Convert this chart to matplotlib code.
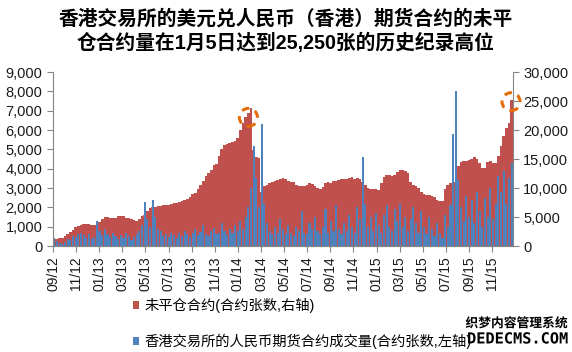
import matplotlib
matplotlib.use('Agg')
import matplotlib.pyplot as plt
import matplotlib.patheffects as pe
from matplotlib.patches import Ellipse
import numpy as np

plt.rcParams['font.family'] = ['Liberation Sans', 'Noto Sans CJK SC', 'DejaVu Sans']

title = '香港交易所的美元兑人民币（香港）期货合约的未平\n仓合约量在1月5日达到25,250张的历史纪录高位'
oi_label = '未平仓合约(合约张数,右轴)'
vol_label = '香港交易所的人民币期货合约成交量(合约张数,左轴)'

# weekly readings, Sep 2012 - Jan 2016
# open interest, thousand contracts (right axis)
open_interest = [
    1.2, 1.3, 1.4, 1.4, 1.7, 2.0, 2.4, 2.8, 3.3, 3.4,
    3.7, 3.8, 3.8, 3.8, 3.7, 3.7, 3.9, 4.2, 4.6, 5.0,
    5.0, 4.9, 4.8, 4.9, 5.1, 5.2, 5.1, 4.9, 4.8, 4.7,
    4.5, 4.4, 4.6, 5.1, 5.4, 6.0, 6.5, 6.7, 6.8, 6.9,
    6.9, 7.0, 7.1, 7.0, 7.2, 7.4, 7.5, 7.6, 7.8, 8.0,
    8.2, 8.5, 8.9, 9.2, 9.8, 10.5, 11.2, 12.0, 12.6, 13.2,
    13.9, 14.2, 15.5, 16.8, 17.4, 17.6, 17.8, 17.9, 18.2, 18.6,
    20.0, 21.2, 22.2, 23.0, 23.8, 16.5, 15.4, 15.2, 9.4, 10.4,
    10.6, 10.8, 11.0, 11.2, 11.4, 11.6, 11.7, 11.6, 11.3, 11.1,
    11.0, 10.6, 10.4, 10.3, 10.4, 10.6, 10.8, 10.7, 10.4, 10.0,
    9.8, 10.2, 10.8, 11.0, 10.9, 11.2, 11.3, 11.4, 11.5, 11.6,
    11.6, 11.8, 11.9, 11.6, 11.8, 11.6, 11.0, 10.5, 10.0, 9.9,
    9.8, 9.8, 9.7, 10.8, 11.9, 12.2, 12.2, 12.0, 12.3, 12.8,
    13.1, 13.2, 13.0, 12.6, 11.0, 10.6, 10.3, 10.0, 9.4, 9.0,
    8.8, 8.8, 8.7, 8.4, 7.9, 7.8, 7.7, 9.9, 10.6, 10.9,
    11.0, 11.1, 13.8, 14.5, 14.6, 14.7, 14.9, 15.1, 15.4, 15.0,
    14.4, 13.5, 13.4, 14.5, 14.6, 14.3, 14.4, 15.5, 17.2, 19.0,
    20.4, 21.2, 25.25,
]

# trading volume, thousand contracts (left axis)
volume = [
    0.40, 0.25, 0.15, 0.10, 0.20, 0.35, 0.30, 0.50, 0.45, 0.60,
    0.70, 0.55, 0.40, 0.60, 0.35, 0.45, 1.30, 0.80, 0.55, 0.90,
    0.60, 0.45, 0.70, 0.50, 0.35, 0.55, 0.40, 0.65, 0.50, 0.30,
    0.45, 0.60, 0.80, 1.10, 2.30, 1.40, 1.00, 2.40, 1.50, 0.90,
    0.80, 0.50, 0.60, 0.45, 0.70, 0.55, 0.40, 0.65, 0.50, 0.80,
    0.60, 0.45, 0.70, 0.90, 0.55, 0.75, 1.10, 0.60, 0.50, 0.80,
    0.95, 0.60, 0.70, 1.20, 0.80, 0.55, 0.90, 0.70, 1.10, 0.80,
    1.30, 0.90, 1.50, 2.00, 3.00, 5.20, 3.50, 2.00, 6.30, 2.20,
    1.20, 0.80, 0.60, 1.00, 0.70, 1.40, 0.90, 0.60, 1.10, 0.70,
    0.50, 1.00, 0.80, 1.80, 0.70, 0.60, 1.20, 0.90, 1.50, 0.80,
    0.60, 1.00, 1.90, 0.70, 1.30, 0.80, 2.10, 0.90, 0.60, 1.20,
    0.80, 1.60, 1.00, 0.70, 2.00, 1.40, 4.60, 2.20, 1.00, 1.50,
    0.80, 1.70, 1.10, 0.70, 1.60, 2.10, 1.00, 0.80, 1.90, 1.30,
    2.20, 1.00, 1.50, 0.80, 1.40, 2.00, 1.20, 0.70, 1.80, 1.00,
    0.60, 1.50, 0.90, 0.50, 1.20, 0.70, 0.40, 1.60, 1.00, 2.10,
    5.80, 8.00, 3.40, 2.00, 1.30, 2.60, 1.50, 2.40, 1.20, 2.80,
    1.80, 1.00, 2.50, 1.50, 3.00, 1.40, 2.20, 3.60, 2.80, 3.90,
    2.20, 3.50, 4.30,
]

tick_labels = ['09/12', '11/12', '01/13', '03/13', '05/13', '07/13', '09/13',
               '11/13', '01/14', '03/14', '05/14', '07/14', '09/14', '11/14',
               '01/15', '03/15', '05/15', '07/15', '09/15', '11/15']

# peaks marked with dashed circles: (week index, open interest)
peaks = [(73, 22.2), (171.8, 24.9)]

red = '#C0504D'
blue = '#4F81BD'
grey = '#868686'

x = np.arange(len(open_interest))
oi = np.array(open_interest) * 1000
vol = np.array(volume) * 1000

fig = plt.figure(figsize=(5.72, 3.52), dpi=100)
ax = fig.add_axes([0.0927, 0.301, 0.804, 0.494])
ax2 = ax.twinx()
ax2.set_zorder(ax.get_zorder() - 1)
ax.patch.set_visible(False)

ax2.bar(x, oi, width=1.0, color=red, linewidth=0, label=oi_label)
ax.bar(x, vol, width=0.8, color=blue, linewidth=0, label=vol_label)

ax.set_xlim(-0.5, len(x) - 0.5)
ax.set_ylim(0, 9000)
ax2.set_ylim(0, 30000)
ax.set_yticks(np.arange(0, 9001, 1000))
ax2.set_yticks(np.arange(0, 30001, 5000))
ax.set_yticklabels([f'{v:,}' for v in range(0, 9001, 1000)])
ax2.set_yticklabels([f'{v:,}' for v in range(0, 30001, 5000)])

step = len(x) / 19.9
ax.set_xticks([-0.5 + k * step for k in range(len(tick_labels))])
ax.set_xticklabels(tick_labels, rotation=90)

for a in (ax, ax2):
    a.spines['top'].set_visible(False)
    for s in ('left', 'right', 'bottom'):
        a.spines[s].set_color(grey)
    a.tick_params(colors=grey, labelcolor='#1a1a1a', labelsize=10.5, length=4)
ax.tick_params(axis='x', labelsize=10, length=4)
ax2.spines['left'].set_visible(False)
ax.spines['right'].set_visible(False)

for cx, cy in peaks:
    e = Ellipse((cx, cy * 1000), width=6.8, height=3100, fill=False,
                edgecolor='#E36C09', linewidth=2.2, linestyle=(0, (2.5, 2)),
                clip_on=False, zorder=5)
    ax2.add_patch(e)

fig.text(0.5, 0.975, title, ha='center', va='top', fontsize=14.2,
         fontweight='bold', linespacing=1.3)

h1, l1 = ax2.get_legend_handles_labels()
h2, l2 = ax.get_legend_handles_labels()
fig.legend(h1 + h2, l1 + l2, loc='upper left', bbox_to_anchor=(0.222, 0.169),
           frameon=False, fontsize=10.3, handlelength=0.45, handleheight=0.45,
           handletextpad=0.35, labelspacing=1.45, borderaxespad=0)

halo = [pe.withStroke(linewidth=2, foreground='white')]
fig.text(0.992, 0.080, '织梦内容管理系统', ha='right', va='center', fontsize=9.2,
         fontweight='bold', color='black', path_effects=halo)
fig.text(0.992, 0.037, 'DEDECMS.COM', ha='right', va='center', fontsize=11,
         fontweight='bold', family='DejaVu Sans Mono', color='black',
         path_effects=halo)

fig.savefig('out.png', dpi=100)
